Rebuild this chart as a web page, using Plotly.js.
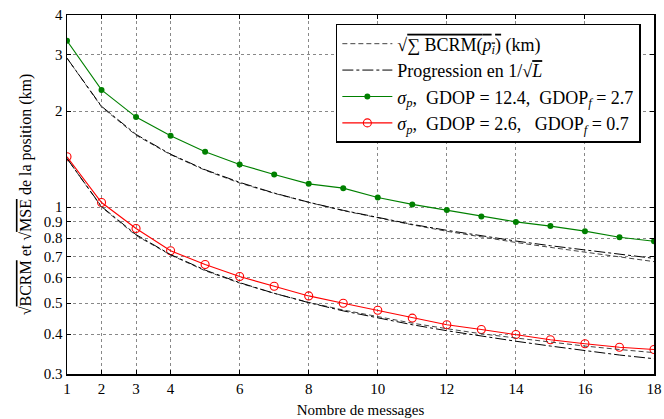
<!DOCTYPE html>
<html>
<head>
<meta charset="utf-8">
<script src="https://cdn.plot.ly/plotly-3.0.1.min.js"></script>
<style>html,body{margin:0;padding:0;background:#fff;}#chart{width:664px;height:419px;}</style>
</head>
<body>
<div id="chart"></div>
<script>
const messages = [1,2,3,4,5,6,7,8,9,10,11,12,13,14,15,16,17,18];
const sigmaGdop124 = [3.32,2.33,1.915,1.673,1.491,1.361,1.266,1.183,1.147,1.072,1.02,0.979,0.935,0.899,0.872,0.841,0.805,0.782];
const sigmaGdop26 = [1.438,1.034,0.857,0.730,0.661,0.606,0.565,0.527,0.500,0.475,0.449,0.428,0.4135,0.399,0.384,0.373,0.364,0.358];
const bcrmHigh = [2.93,2.06,1.68,1.46,1.305,1.19,1.105,1.035,0.975,0.925,0.88,0.84,0.805,0.775,0.748,0.722,0.698,0.675];
const progHigh = [2.93,2.07,1.69,1.465,1.31,1.196,1.107,1.036,0.977,0.927,0.883,0.846,0.813,0.783,0.757,0.733,0.711,0.691];
const bcrmLow = [1.42,1.00,0.815,0.708,0.632,0.578,0.537,0.503,0.476,0.453,0.433,0.416,0.401,0.389,0.377,0.367,0.358,0.350];
const progLow = [1.42,1.004,0.820,0.710,0.635,0.580,0.537,0.502,0.473,0.449,0.428,0.410,0.394,0.380,0.367,0.355,0.344,0.335];
const xTicks = [1,2,3,4,6,8,10,12,14,16,18];
const yTicks = [0.3,0.4,0.5,0.6,0.7,0.8,0.9,1,2,3,4];
const yTickText = ['0.3','0.4','0.5','0.6','0.7','0.8','0.9','1','2','3','4'];

const FONT = '"Liberation Serif", serif';
const OL = s => '<span style="text-decoration:overline">' + s + '</span>';
const nb = '\u00A0';
const bcrmName = '√' + OL('∑' + nb + 'BCRM(<i>p<sub>i</sub></i>)') + nb + '(km)';
const progName = 'Progression en 1/√' + OL('<i>L</i>');
const greenName = '<i>σ<sub>p</sub></i>,' + nb + nb + 'GDOP' + nb + '=' + nb + '12.4,' + nb + nb + 'GDOP<sub><i>f</i></sub>' + nb + '=' + nb + '2.7';
const redName = '<i>σ<sub>p</sub></i>,' + nb + nb + 'GDOP' + nb + '=' + nb + '2.6,' + nb + nb + nb + 'GDOP<sub><i>f</i></sub>' + nb + '=' + nb + '0.7';

const bcrmLine = {color:'#444', width:1, dash:'5px,3px'};
const progLine = {color:'#000', width:1, dash:'11px,3px,3px,3px'};

const traces = [
  {x:messages, y:bcrmHigh, mode:'lines', line:bcrmLine, name:bcrmName, legendgroup:'b'},
  {x:messages, y:progHigh, mode:'lines', line:progLine, name:progName, legendgroup:'p'},
  {x:messages, y:sigmaGdop124, mode:'lines+markers', line:{color:'#008000', width:1.1}, marker:{color:'#008000', size:6, symbol:'circle'}, name:greenName},
  {x:messages, y:sigmaGdop26, mode:'lines+markers', line:{color:'#ff0000', width:1.1}, marker:{color:'#ff0000', size:8, symbol:'circle-open', line:{width:1.1, color:'#ff0000'}}, name:redName},
  {x:messages, y:bcrmLow, mode:'lines', line:bcrmLine, name:bcrmName, legendgroup:'b', showlegend:false},
  {x:messages, y:progLow, mode:'lines', line:progLine, name:progName, legendgroup:'p', showlegend:false}
];

const axisCommon = {
  showline:true, linecolor:'#000', linewidth:1.5, mirror:'ticks',
  ticks:'inside', ticklen:4, tickcolor:'#000', tickwidth:1,
  showgrid:true, gridcolor:'#888', griddash:'dot', gridwidth:1,
  zeroline:false,
  tickfont:{family:FONT, size:15, color:'#000'}
};

const layout = {
  width:664, height:419,
  margin:{l:67, r:10, t:15, b:45},
  paper_bgcolor:'#fff', plot_bgcolor:'#fff',
  font:{family:FONT, size:15, color:'#000'},
  xaxis:Object.assign({}, axisCommon, {
    range:[1,18], tickmode:'array', tickvals:xTicks, ticktext:xTicks.map(String),
    title:{text:'Nombre de messages', font:{family:FONT, size:15}, standoff:9}
  }),
  yaxis:Object.assign({}, axisCommon, {
    type:'log', range:[Math.log10(0.3), Math.log10(4)], tickmode:'array', tickvals:yTicks, ticktext:yTickText,
    title:{text:'√' + OL('BCRM') + ' et √' + OL('MSE') + ' de la position (km)', font:{family:FONT, size:16}, standoff:8}
  }),
  legend:{
    x:0.458, y:0.975, xanchor:'left', yanchor:'top',
    bgcolor:'#fff', bordercolor:'#000', borderwidth:1.5,
    font:{family:FONT, size:18, color:'#000'},
    tracegroupgap:0, itemwidth:50
  },
  showlegend:true
};

Plotly.newPlot('chart', traces, layout, {displayModeBar:false, staticPlot:true});
</script>
</body>
</html>
